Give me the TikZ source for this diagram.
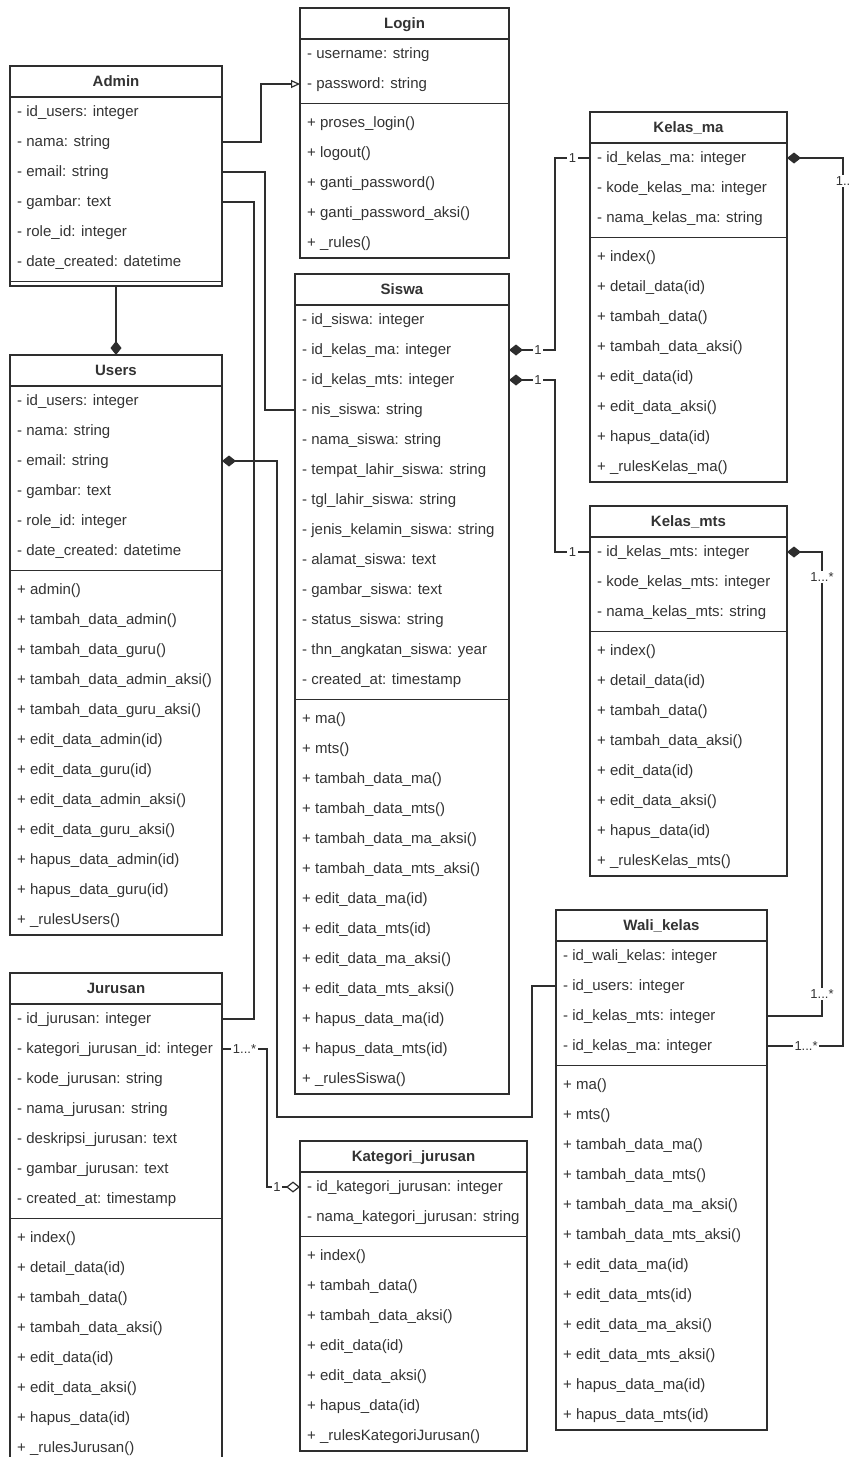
\documentclass[tikz,border=0pt]{standalone}
\usepackage{fontspec}
\setmainfont{Liberation Sans}
\usetikzlibrary{arrows.meta}
\definecolor{ink}{HTML}{2E2E2E}
\definecolor{txt}{HTML}{333333}
\tikzset{
  classbox/.style={draw=ink, line width=1.4pt, rectangle, inner sep=0pt, outer sep=0pt},
  classline/.style={draw=ink, line width=1.4pt},
  classtitle/.style={font=\fontsize{15}{17}\selectfont\bfseries, text=txt, inner sep=0pt, text height=11pt, text depth=3pt},
  member/.style={font=\fontsize{15}{17}\selectfont, text=txt, anchor=west, inner sep=0pt, text height=11pt, text depth=3pt},
  conn/.style={draw=ink, line width=1.2pt},
  mult/.style={font=\fontsize{13}{15}\selectfont, text=txt, fill=white, inner sep=1.5pt},
  fdiam/.tip={Diamond[length=14pt,width=11pt]},
  odiam/.tip={Diamond[open,length=14pt,width=11pt,fill=white]},
  otri/.tip={Triangle[open,length=9pt,width=8pt,fill=white]}
}
% #1 id, #2 left, #3 top, #4 right, #5 title, #6 n attributes, #7 n methods
\newcommand\umlclass[7]{%
  \pgfmathsetmacro\ubot{#3+31+30*#6+9+30*#7}%
  \node[classbox, minimum width={(#4)-(#2)}, minimum height={\ubot-(#3)}] (#1) at ({((#2)+(#4))/2},{((#3)+\ubot)/2}) {};
  \node[classtitle] (#1-t) at ({((#2)+(#4))/2},{(#3)+16}) {#5};
  \draw[classline] ({#2},{(#3)+31}) -- ({#4},{(#3)+31});
  \draw[classline] ({#2},{(#3)+31+30*(#6)+4.5}) -- ({#4},{(#3)+31+30*(#6)+4.5});
}
% #1 prefix, #2 left, #3 first centre y, #4 list
\newcommand\umlrows[4]{%
  \foreach \t [count=\k] in {#4} {\node[member] (#1\k) at ({(#2)+7},{(#3)+30*(\k-1)}) {\t};}
}
\begin{document}
\begin{tikzpicture}[x=1pt,y=-1pt]
\fill[white] (0,0) rectangle (851,1457);
\useasboundingbox (0,0) rectangle (851,1457);

% Login
\umlclass{login}{300}{8}{509}{Login}{2}{5}
\umlrows{login-a}{300}{54}{- username: string, - password: string}
\umlrows{login-m}{300}{123}{+ proses\_login(), + logout(), + ganti\_password(), + ganti\_password\_aksi(), + \_rules()}

% Admin
\umlclass{admin}{10}{66}{222}{Admin}{6}{0}
\umlrows{admin-a}{10}{112}{- id\_users: integer, - nama: string, - email: string, - gambar: text, - role\_id: integer, - date\_created: datetime}

% Users
\umlclass{users}{10}{355}{222}{Users}{6}{12}
\umlrows{users-a}{10}{401}{- id\_users: integer, - nama: string, - email: string, - gambar: text, - role\_id: integer, - date\_created: datetime}
\umlrows{users-m}{10}{590}{+ admin(), + tambah\_data\_admin(), + tambah\_data\_guru(), + tambah\_data\_admin\_aksi(), + tambah\_data\_guru\_aksi(), + edit\_data\_admin(id), + edit\_data\_guru(id), + edit\_data\_admin\_aksi(), + edit\_data\_guru\_aksi(), + hapus\_data\_admin(id), + hapus\_data\_guru(id), + \_rulesUsers()}

% Siswa
\umlclass{siswa}{295}{274}{509}{Siswa}{13}{13}
\umlrows{siswa-a}{295}{320}{- id\_siswa: integer, - id\_kelas\_ma: integer, - id\_kelas\_mts: integer, - nis\_siswa: string, - nama\_siswa: string, - tempat\_lahir\_siswa: string, - tgl\_lahir\_siswa: string, - jenis\_kelamin\_siswa: string, - alamat\_siswa: text, - gambar\_siswa: text, - status\_siswa: string, - thn\_angkatan\_siswa: year, - created\_at: timestamp}
\umlrows{siswa-m}{295}{719}{+ ma(), + mts(), + tambah\_data\_ma(), + tambah\_data\_mts(), + tambah\_data\_ma\_aksi(), + tambah\_data\_mts\_aksi(), + edit\_data\_ma(id), + edit\_data\_mts(id), + edit\_data\_ma\_aksi(), + edit\_data\_mts\_aksi(), + hapus\_data\_ma(id), + hapus\_data\_mts(id), + \_rulesSiswa()}

% Kelas_ma
\umlclass{kelasma}{590}{112}{787}{Kelas\_ma}{3}{8}
\umlrows{kelasma-a}{590}{158}{- id\_kelas\_ma: integer, - kode\_kelas\_ma: integer, - nama\_kelas\_ma: string}
\umlrows{kelasma-m}{590}{257}{+ index(), + detail\_data(id), + tambah\_data(), + tambah\_data\_aksi(), + edit\_data(id), + edit\_data\_aksi(), + hapus\_data(id), + \_rulesKelas\_ma()}

% Kelas_mts
\umlclass{kelasmts}{590}{506}{787}{Kelas\_mts}{3}{8}
\umlrows{kelasmts-a}{590}{552}{- id\_kelas\_mts: integer, - kode\_kelas\_mts: integer, - nama\_kelas\_mts: string}
\umlrows{kelasmts-m}{590}{651}{+ index(), + detail\_data(id), + tambah\_data(), + tambah\_data\_aksi(), + edit\_data(id), + edit\_data\_aksi(), + hapus\_data(id), + \_rulesKelas\_mts()}

% Wali_kelas
\umlclass{wali}{556}{910}{767}{Wali\_kelas}{4}{12}
\umlrows{wali-a}{556}{956}{- id\_wali\_kelas: integer, - id\_users: integer, - id\_kelas\_mts: integer, - id\_kelas\_ma: integer}
\umlrows{wali-m}{556}{1085}{+ ma(), + mts(), + tambah\_data\_ma(), + tambah\_data\_mts(), + tambah\_data\_ma\_aksi(), + tambah\_data\_mts\_aksi(), + edit\_data\_ma(id), + edit\_data\_mts(id), + edit\_data\_ma\_aksi(), + edit\_data\_mts\_aksi(), + hapus\_data\_ma(id), + hapus\_data\_mts(id)}

% Jurusan
\umlclass{jurusan}{10}{973}{222}{Jurusan}{7}{8}
\umlrows{jurusan-a}{10}{1019}{- id\_jurusan: integer, - kategori\_jurusan\_id: integer, - kode\_jurusan: string, - nama\_jurusan: string, - deskripsi\_jurusan: text, - gambar\_jurusan: text, - created\_at: timestamp}
\umlrows{jurusan-m}{10}{1238}{+ index(), + detail\_data(id), + tambah\_data(), + tambah\_data\_aksi(), + edit\_data(id), + edit\_data\_aksi(), + hapus\_data(id), + \_rulesJurusan()}

% Kategori_jurusan
\umlclass{kategori}{300}{1141}{527}{Kategori\_jurusan}{2}{7}
\umlrows{kategori-a}{300}{1187}{- id\_kategori\_jurusan: integer, - nama\_kategori\_jurusan: string}
\umlrows{kategori-m}{300}{1256}{+ index(), + tambah\_data(), + tambah\_data\_aksi(), + edit\_data(id), + edit\_data\_aksi(), + hapus\_data(id), + \_rulesKategoriJurusan()}

% ---------- connectors ----------
% Admin -> Login (generalisation)
\draw[conn, -{otri}] (admin-a2 -| admin.east) -- ++(39,0) |- (login-a2 -| login.west);
% Admin -> Siswa
\draw[conn] (admin-a3 -| admin.east) -- ++(43,0) |- (siswa-a4 -| siswa.west);
% Admin -> Jurusan
\draw[conn] (admin-a4 -| admin.east) -- ++(32,0) |- (jurusan-a1 -| jurusan.east);
% Admin -> Users (composition)
\draw[conn, -{fdiam}] (admin.south) -- (users.north);
% Wali_kelas -> Users (composition)
\draw[conn, -{fdiam}] (wali-a2 -| wali.west) -- ++(-24,0) -- ++(0,131) -- ++(-255,0) |- (users-a3 -| users.east);
% Siswa -> Kelas_ma
\draw[conn, {fdiam}-] (siswa-a2 -| siswa.east) -- node[mult, pos=0.63] {1} ++(46,0) |- node[mult, pos=0.75] {1} (kelasma-a1 -| kelasma.west);
% Siswa -> Kelas_mts
\draw[conn, {fdiam}-] (siswa-a3 -| siswa.east) -- node[mult, pos=0.63] {1} ++(46,0) |- node[mult, pos=0.75] {1} (kelasmts-a1 -| kelasmts.west);
% Kelas_ma -> Wali_kelas
\draw[conn, {fdiam}-] (kelasma-a1 -| kelasma.east) -- ++(56,0) |- node[mult, pos=0.013] {1..} node[mult, pos=0.743] {1...*} (wali-a4 -| wali.east);
% Kelas_mts -> Wali_kelas
\draw[conn, {fdiam}-] (kelasmts-a1 -| kelasmts.east) -- ++(35,0) |- node[mult, pos=0.027] {1...*} node[mult, pos=0.476] {1...*} (wali-a3 -| wali.east);
% Jurusan -> Kategori_jurusan (aggregation)
\draw[conn, -{odiam}] (jurusan-a2 -| jurusan.east) -- node[mult, pos=0.5] {1...*} ++(45,0) |- node[mult, pos=0.65] {1} (kategori-a1 -| kategori.west);
\end{tikzpicture}
\end{document}
